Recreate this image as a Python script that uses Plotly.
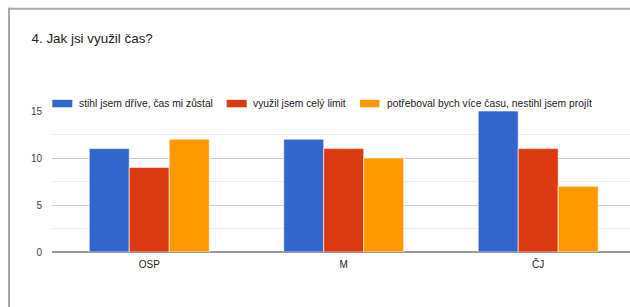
import plotly.graph_objects as go

categories = ["OSP", "M", "ČJ"]
series_names = [
    "stihl jsem dříve, čas mi zůstal",
    "využil jsem celý limit",
    "potřeboval bych více času, nestihl jsem projít",
]
values_early = [11, 12, 15]
values_limit = [9, 11, 11]
values_more = [12, 10, 7]
series_values = [values_early, values_limit, values_more]
colors = ["#3366cc", "#dc3912", "#ff9900"]
y_ticks = [0, 5, 10, 15]
title_text = "4. Jak jsi využil čas?"

FONT = "Liberation Sans, Arial, sans-serif"
W, H = 630, 307
L, R, T, B = 52, 0, 110.7, 307 - 251.7
pw, ph = W - L - R, H - T - B


def px_x(p):  # page pixel -> paper coordinate
    return (p - L) / pw


def px_y(p):
    return 1 + (T - p) / ph


fig = go.Figure()
for name, vals, col in zip(series_names, series_values, colors):
    fig.add_trace(go.Bar(
        x=categories, y=vals, name=name,
        marker=dict(color=col, line=dict(color="rgba(255,255,255,0.6)", width=1)),
        showlegend=False,
    ))

# custom legend (Google-charts style)
legend_sym_x = [(52.3, 72.3), (226.7, 246.7), (360, 379.5)]
legend_txt_x = [76.5, 251, 385]
shapes = []
annotations = []
for (x0, x1), tx, name, col in zip(legend_sym_x, legend_txt_x, series_names, colors):
    shapes.append(dict(type="rect", xref="paper", yref="paper",
                       x0=px_x(x0), x1=px_x(x1), y0=px_y(99.5), y1=px_y(107),
                       fillcolor=col, line=dict(width=0)))
    annotations.append(dict(text=name, xref="paper", yref="paper",
                            x=px_x(tx), y=px_y(103), xanchor="left", yanchor="middle",
                            showarrow=False,
                            font=dict(family=FONT, size=10.3, color="#222")))

# card border
shapes += [
    dict(type="line", xref="paper", yref="paper",
         x0=px_x(8.2), x1=px_x(640), y0=px_y(8.5), y1=px_y(8.5),
         line=dict(color="#a8a8a8", width=2)),
    dict(type="line", xref="paper", yref="paper",
         x0=px_x(9), x1=px_x(9), y0=px_y(7.5), y1=px_y(320),
         line=dict(color="#a8a8a8", width=2)),
]

fig.update_layout(
    width=W, height=H,
    margin=dict(l=L, r=R, t=T, b=B),
    paper_bgcolor="white", plot_bgcolor="white",
    barmode="group", bargap=0.383, bargroupgap=0,
    font=dict(family=FONT, color="#444", size=10),
    title=dict(text=title_text, xref="container", yref="container",
               x=31.5 / W, y=1 - 38.5 / H, xanchor="left", yanchor="middle",
               font=dict(family=FONT, size=13.4, color="#222")),
    showlegend=False,
    xaxis=dict(range=[-0.5, 2.472], showgrid=False, ticks="",
               tickfont=dict(size=10, color="#222"), ticklabelstandoff=5,
               showline=False, zeroline=False, fixedrange=True),
    yaxis=dict(range=[0, 15], tickvals=y_ticks, showgrid=True, gridcolor="#cccccc",
               gridwidth=1, zeroline=True, zerolinecolor="#999999", zerolinewidth=1.5,
               tickfont=dict(size=10, color="#444"), ticks="", ticklabelstandoff=9,
               minor=dict(dtick=2.5, showgrid=True, gridcolor="#ebebeb", gridwidth=1),
               fixedrange=True),
    shapes=shapes,
    annotations=annotations,
)

fig.write_html(
    "out.html",
    config={"displayModeBar": False},
    post_script=(
        "document.body.style.margin='0';"
        "document.body.style.overflow='hidden';"
        "document.documentElement.style.overflow='hidden';"
    ),
)
